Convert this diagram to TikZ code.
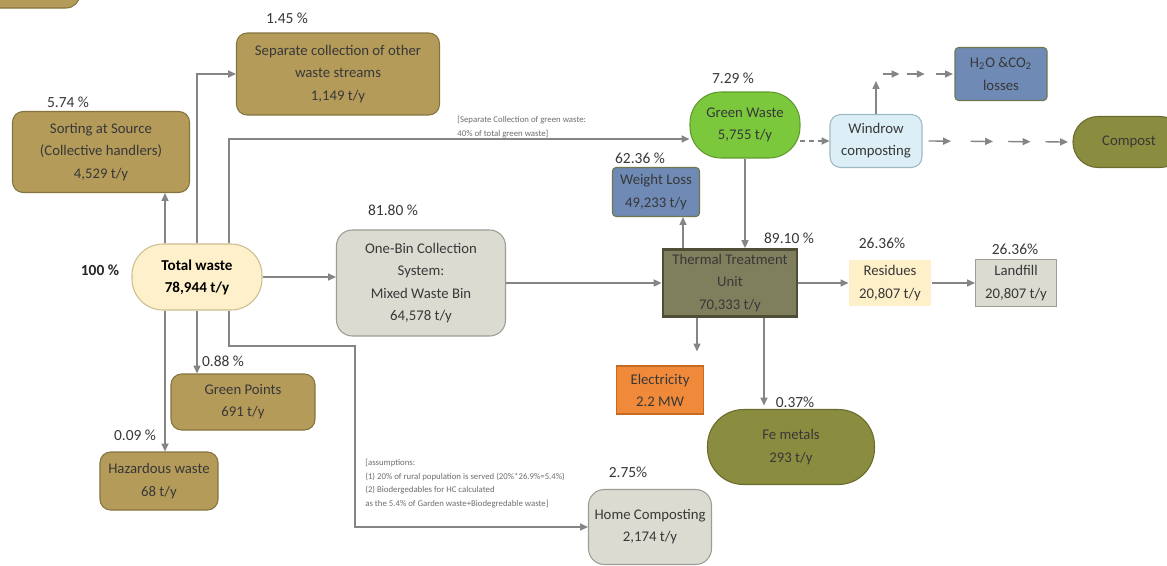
\documentclass[tikz,border=0pt]{standalone}
\usepackage{fontspec}
\setmainfont{Carlito}
\usepackage{tikz}
\usetikzlibrary{positioning,arrows.meta,calc}
\usepackage{xcolor}
\definecolor{ochre}{HTML}{B49B5A}
\definecolor{ochreDark}{HTML}{85743E}
\definecolor{creamFill}{HTML}{FDF0CB}
\definecolor{creamLine}{HTML}{CDBE8E}
\definecolor{stoneFill}{HTML}{DCDBD1}
\definecolor{stoneLine}{HTML}{9E9D93}
\definecolor{leafFill}{HTML}{7CC83C}
\definecolor{leafLine}{HTML}{5E9A2E}
\definecolor{skyFill}{HTML}{DCEEF6}
\definecolor{skyLine}{HTML}{9FB9C5}
\definecolor{steelFill}{HTML}{6F8AB4}
\definecolor{steelLine}{HTML}{6E7752}
\definecolor{oliveFill}{HTML}{8A8C3F}
\definecolor{oliveLine}{HTML}{6A6C2C}
\definecolor{kilnFill}{HTML}{807F5D}
\definecolor{kilnLine}{HTML}{4E4D35}
\definecolor{sandFill}{HTML}{FEF0C9}
\definecolor{emberFill}{HTML}{F08A3A}
\definecolor{emberLine}{HTML}{C66A22}
\definecolor{txtGrey}{HTML}{383838}
\definecolor{noteGrey}{HTML}{6E6E6E}
\definecolor{arrowGrey}{HTML}{858585}

\begin{document}
\begin{tikzpicture}[x=0.02cm, y=-0.02cm,
    flowBox/.style={rectangle, rounded corners=6pt, draw, line width=0.6pt, font=\fontsize{8.4}{12.6}\selectfont, align=center, text=txtGrey, inner sep=2pt},
    ochreBox/.style={flowBox, fill=ochre, draw=ochreDark},
    pillBox/.style={flowBox, rounded corners=#1},
    pctLabel/.style={font=\fontsize{8.8}{10}\selectfont, text=txtGrey, inner sep=0pt},
    noteText/.style={font=\fontsize{5}{7.7}\selectfont, text=noteGrey, align=left, inner sep=0pt},
    flowArrow/.style={draw=arrowGrey, line width=0.75pt, -{Triangle[length=4.5pt,width=4pt]}}
]
    \useasboundingbox (0,0) rectangle (1167,565);
    \fill[white] (0,0) rectangle (1167,565);
    \draw[fill=ochre, draw=ochreDark, line width=0.6pt, rounded corners=8pt] (-40,-40) rectangle (80,8);

    % sources
    \node[ochreBox, minimum width=4.06cm, minimum height=1.64cm] (sep) at (338,74) {Separate collection of other\\waste streams\\1,149 t/y};
    \node[ochreBox, minimum width=3.54cm, minimum height=1.62cm] (sort) at (101,152) {Sorting at Source\\(Collective handlers)\\4,529 t/y};
    \node[pillBox=0.62cm, fill=creamFill, draw=creamLine, minimum width=2.6cm, minimum height=1.32cm, font=\fontsize{8.6}{12.4}\selectfont\bfseries, text=black] (total) at (197,277) {Total waste\\78,944 t/y};
    \node[flowBox, rounded corners=9pt, fill=stoneFill, draw=stoneLine, minimum width=3.38cm, minimum height=2.12cm] (onebin) at (421,283) {One-Bin Collection\\System:\\Mixed Waste Bin\\64,578 t/y};
    \node[ochreBox, minimum width=2.88cm, minimum height=1.12cm] (gpoints) at (243,402) {Green Points\\691 t/y};
    \node[ochreBox, minimum width=2.36cm, minimum height=1.16cm] (haz) at (159,481) {Hazardous waste\\68 t/y};
    \node[flowBox, rounded corners=9pt, fill=stoneFill, draw=stoneLine, minimum width=2.46cm, minimum height=1.5cm] (home) at (650,527) {Home Composting\\2,174 t/y};

    % treatment
    \node[pillBox=0.62cm, fill=leafFill, draw=leafLine, minimum width=2.2cm, minimum height=1.32cm] (green) at (745,125) {Green Waste\\5,755 t/y};
    \node[flowBox, fill=skyFill, draw=skyLine, minimum width=1.84cm, minimum height=1.06cm] (win) at (876,141) {Windrow\\composting};
    \node[flowBox, rounded corners=2pt, fill=steelFill, draw=steelLine, minimum width=1.84cm, minimum height=1.06cm] (loss) at (1001,74) {H\textsubscript{2}O \&CO\textsubscript{2}\\losses};
    \node[pillBox=0.5cm, fill=oliveFill, draw=oliveLine, minimum width=2.24cm, minimum height=1.02cm] (compost) at (1129,142) {Compost};
    \node[flowBox, rounded corners=2pt, fill=steelFill, draw=steelLine, minimum width=1.74cm, minimum height=0.98cm] (weight) at (656,192) {Weight Loss\\49,233 t/y};
    \node[flowBox, rounded corners=0pt, fill=kilnFill, draw=kilnLine, line width=1.6pt, minimum width=2.68cm, minimum height=1.34cm] (thermal) at (730,283) {Thermal Treatment\\Unit\\70,333 t/y};
    \node[flowBox, rounded corners=0pt, fill=sandFill, draw=none, minimum width=1.64cm, minimum height=0.94cm] (resid) at (890,283) {Residues\\20,807 t/y};
    \node[flowBox, rounded corners=0pt, fill=stoneFill, draw=stoneLine, minimum width=1.62cm, minimum height=0.94cm] (land) at (1016,283) {Landfill\\20,807 t/y};
    \node[flowBox, rounded corners=0pt, fill=emberFill, draw=emberLine, minimum width=1.74cm, minimum height=0.96cm] (elec) at (660,390) {Electricity\\2.2 MW};
    \node[pillBox=0.72cm, fill=oliveFill, draw=oliveLine, minimum width=3.34cm, minimum height=1.5cm] (fe) at (791,447) {Fe metals\\293 t/y};

    % percentages
    \node[pctLabel] (pSep) at (287,18) {1.45 \%};
    \node[pctLabel] (pSort) at (68,102) {5.74 \%};
    \node[pctLabel, font=\fontsize{8.8}{10}\selectfont\bfseries, text=black!85] (pTotal) at (100,270) {100 \%};
    \node[pctLabel] (pOne) at (393,210) {81.80 \%};
    \node[pctLabel] (pGreen) at (733,78) {7.29 \%};
    \node[pctLabel] (pWeight) at (640,158) {62.36 \%};
    \node[pctLabel] (pTherm) at (789,238) {89.10 \%};
    \node[pctLabel] (pResid) at (882,243) {26.36\%};
    \node[pctLabel] (pLand) at (1015,249) {26.36\%};
    \node[pctLabel] (pFe) at (795,402) {0.37\%};
    \node[pctLabel] (pGp) at (223,361) {0.88 \%};
    \node[pctLabel] (pHaz) at (135,435) {0.09 \%};
    \node[pctLabel] (pHome) at (628,472) {2.75\%};

    % notes
    \node[noteText, anchor=south west] (noteGreen) at (457,138) {[Separate Collection of green waste:\\40\% of total green waste]};
    \node[noteText, anchor=north west] (noteHome) at (365,459) {[assumptions:\\(1) 20\% of rural population is served (20\%*26.9\%=5.4\%)\\(2) Biodergedables for HC calculated\\as the 5.4\% of Garden waste+Biodegredable waste]};

    % flows out of total waste
    \coordinate (tnL) at ($(total.north)+(-32,0)$);
    \coordinate (tnR) at ($(total.north)+(32,0)$);
    \coordinate (tsL) at ($(total.south)+(-32,0)$);
    \coordinate (tsR) at ($(total.south)+(32,0)$);
    \coordinate (greenIn) at ($(green.west)+(0,14)$);
    \coordinate (homeBend) at (355,346);
    \draw[flowArrow] (tnL) -- (tnL |- sort.south);
    \draw[flowArrow] (total.north) |- (sep.west);
    \draw[flowArrow] (tnR) |- (greenIn);
    \draw[flowArrow] (total.east) -- (total.east -| onebin.west);
    \draw[flowArrow] (tsL) -- (tsL |- haz.north);
    \draw[flowArrow] (total.south) -- (total.south |- gpoints.north);
    \draw[flowArrow] (tsR) |- (homeBend) |- (home.west);

    % treatment flows
    \coordinate (thN) at ($(thermal.north)+(-47,0)$);
    \coordinate (thSL) at ($(thermal.south)+(-33,0)$);
    \coordinate (thSR) at ($(thermal.south)+(34,0)$);
    \draw[flowArrow] (onebin.east) -- (thermal.west);
    \draw[flowArrow] (green.south) -- (green.south |- thermal.north);
    \draw[flowArrow] (thN) -- (thN |- weight.south);
    \draw[flowArrow] (thermal.east) -- (resid.west);
    \draw[flowArrow] (resid.east) -- (land.west);
    \draw[flowArrow, shorten >=8pt] (thSL) -- (thSL |- elec.north);
    \draw[flowArrow, shorten >=2pt] (thSR) -- (thSR |- fe.north);

    % composting
    \draw[flowArrow, densely dashed, shorten <=2pt] ($(win.west -| green.east)+(-4,0)$) -- (win.west);
    \coordinate (lossTurn) at (876,74);
    \draw[flowArrow, shorten >=4pt] (win.north) -- (lossTurn);
    \foreach \a/\b in {0.09/0.30, 0.39/0.62, 0.77/0.98}
        \draw[flowArrow] ($(lossTurn)!\a!(loss.west)$) -- ($(lossTurn)!\b!(loss.west)$);
    \foreach \a/\b in {0.04/0.19, 0.32/0.47, 0.57/0.72, 0.82/0.97}
        \draw[flowArrow] ($(win.east)!\a!(compost.west)$) -- ($(win.east)!\b!(compost.west)$);
\end{tikzpicture}
\end{document}
